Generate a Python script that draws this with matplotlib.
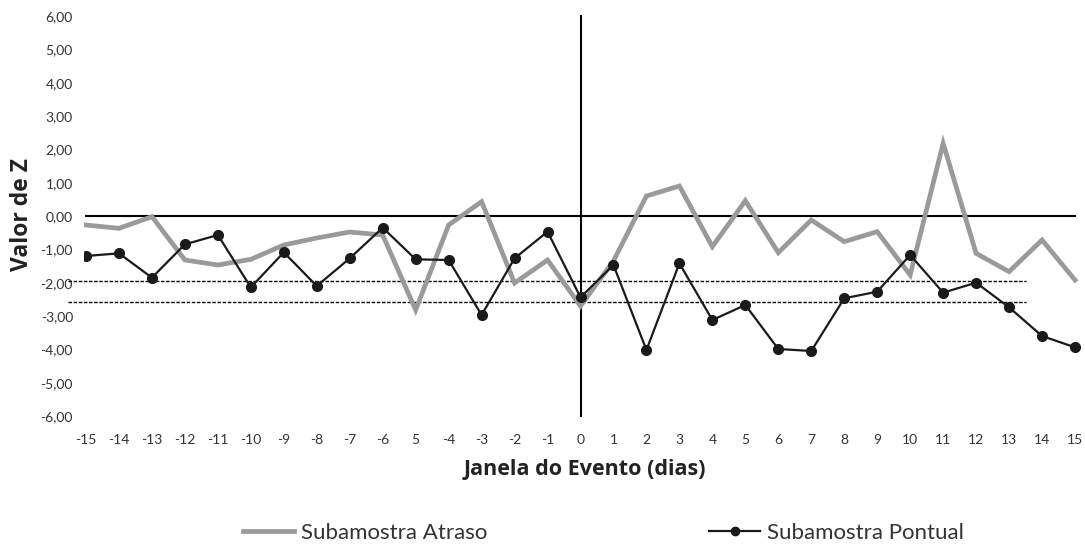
import matplotlib.pyplot as plt
from matplotlib.lines import Line2D

days = list(range(-15, 16))
day_labels = ["-15", "-14", "-13", "-12", "-11", "-10", "-9", "-8", "-7", "-6", "5", "-4", "-3", "-2", "-1",
              "0", "1", "2", "3", "4", "5", "6", "7", "8", "9", "10", "11", "12", "13", "14", "15"]
atraso = [-0.27, -0.37, -0.02, -1.32, -1.47, -1.30, -0.87, -0.66, -0.48, -0.57, -2.82, -0.27, 0.43, -2.01, -1.32,
          -2.70, -1.35, 0.60, 0.90, -0.92, 0.46, -1.10, -0.12, -0.77, -0.47, -1.77, 2.18, -1.12, -1.67, -0.72, -1.92]
pontual = [-1.20, -1.12, -1.85, -0.85, -0.57, -2.14, -1.09, -2.10, -1.27, -0.35, -1.30, -1.32, -2.97, -1.27, -0.47,
           -2.44, -1.47, -4.02, -1.42, -3.12, -2.67, -3.99, -4.05, -2.47, -2.27, -1.17, -2.30, -2.00, -2.74, -3.60, -3.94]
y_ticks = [6, 5, 4, 3, 2, 1, 0, -1, -2, -3, -4, -5, -6]
crit_values = [-1.96, -2.58]

plt.rcParams["font.family"] = ["Lato", "DejaVu Sans"]

W, H = 1085, 546
fig = plt.figure(figsize=(W / 100, H / 100), dpi=100)
# axes placed in pixel terms: x from 84 to 1085, y from 6 to 426
ax = fig.add_axes([84 / W, (H - 426) / H, (W - 84) / W, 420 / H])
px = (1075 - 86) / 30
ax.set_xlim(-15 - 2 / px, 15 + 10 / px)
ax.set_ylim(-6.3, 6.3)
for s in ax.spines.values():
    s.set_visible(False)

ax.plot([-15, 15], [0, 0], color="black", linewidth=1.5, zorder=2)
ax.plot([0, 0], [-6, 6], color="black", linewidth=1.5, zorder=2)
for c in crit_values:
    ax.plot([-15 - 18 / px, 13.5], [c, c], color="black", linewidth=1.0, linestyle=(0, (2.5, 1.2)),
            zorder=2, clip_on=False)

ax.plot(days, atraso, color="#9a9a9c", linewidth=3.4, zorder=3, solid_joinstyle="miter")
ax.plot(days, pontual, color="#1a1a1a", linewidth=1.6, marker="o", markersize=7, zorder=4)

ax.set_xticks(days)
ax.set_xticklabels(day_labels, fontsize=10, color="#333333")
ax.set_yticks(y_ticks)
ax.set_yticklabels([f"{v:.2f}".replace(".", ",") for v in y_ticks], fontsize=10, color="#333333")
ax.tick_params(axis="both", length=0)
ax.tick_params(axis="y", pad=8)
ax.tick_params(axis="x", pad=6)

ax.set_xlabel("Janela do Evento (dias)", fontsize=15.5, fontweight="bold", labelpad=9,
              family=["Open Sans", "DejaVu Sans"], color="#222222")
fig.text(22 / W, 1 - 215 / H, "Valor de Z", rotation=90, fontsize=16.5, fontweight="bold", ha="center",
         va="center", family=["Open Sans", "DejaVu Sans"], color="#222222")

handles = [Line2D([], [], color="#9a9a9c", linewidth=3.4),
           Line2D([], [], color="#1a1a1a", linewidth=1.6, marker="o", markersize=6)]
fig.legend(handles, ["Subamostra Atraso", "Subamostra Pontual"], loc="center", bbox_to_anchor=(0.556, 13 / H),
           ncol=2, frameon=False, fontsize=16, handlelength=2.3, handletextpad=0.3, columnspacing=10,
           borderpad=0, labelcolor="#333333")

fig.savefig("out.png", dpi=100)
